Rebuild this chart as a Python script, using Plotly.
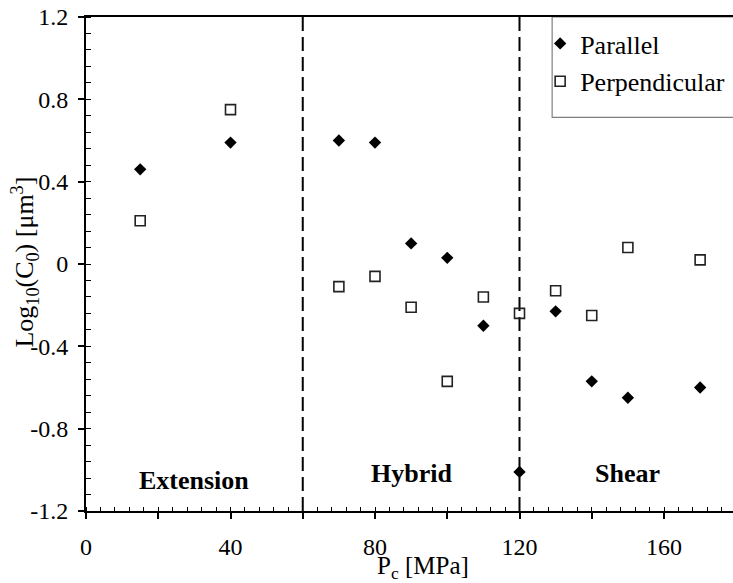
import plotly.graph_objects as go

# ---------------- data ----------------
pc = [15, 40, 70, 80, 90, 100, 110, 120, 130, 140, 150, 170]
parallel = [0.46, 0.59, 0.60, 0.59, 0.10, 0.03, -0.30, -1.01, -0.23, -0.57, -0.65, -0.60]
perpendicular = [0.21, 0.75, -0.11, -0.06, -0.21, -0.57, -0.16, -0.24, -0.13, -0.25, 0.08, 0.02]

regime_bounds = [60, 120]
regime_names = ["Extension", "Hybrid", "Shear"]

x_tickvals = [0, 20, 40, 60, 80, 100, 120, 140, 160]
x_ticktext = ["0", "", "40", "", "80", "", "120", "", "160"]
y_tickvals = [-1.2, -0.8, -0.4, 0, 0.4, 0.8, 1.2]
y_ticktext = ["-1.2", "-0.8", "-0.4", "0", "0.4", "0.8", "1.2"]

# ---------------- styling ----------------
FONT = "Liberation Serif, Times New Roman, serif"
FS = 26
TFS = 24
W, H = 733, 583
ML, MT, MB, MR = 85.5, 16.5, 71.5, 0
XR = [0, 179.1]
YR = [-1.2, 1.2]
pw = W - ML - MR
ph = H - MT - MB

fig = go.Figure()
fig.add_trace(go.Scatter(
    x=pc, y=parallel, mode="markers", name="Parallel", legendgroup="a",
    marker=dict(symbol="diamond", size=9.5, color="black", line=dict(width=0)),
))
fig.add_trace(go.Scatter(
    x=pc, y=perpendicular, mode="markers", name="Perpendicular", legendgroup="b",
    marker=dict(symbol="square-open", size=10, color="#222222", line=dict(width=1.6)),
))

# regime boundaries (dashed)
for b in regime_bounds:
    fig.add_shape(type="line", xref="x", yref="paper", x0=b, x1=b, y0=0, y1=1,
                  line=dict(color="black", width=2, dash="14px,6px"), layer="below")

# legend frame
fig.add_shape(type="rect", xref="paper", yref="paper",
              x0=(552 - ML) / pw, x1=1.02, y0=1 - (117 - MT) / ph, y1=1,
              line=dict(color="#7f7f7f", width=1.2), fillcolor="white", layer="below")

# regime labels at centres of regimes
edges = [0] + regime_bounds + [180]
label_y = [-1.05, -1.02, -1.02]
for i, name in enumerate(regime_names):
    fig.add_annotation(x=(edges[i] + edges[i + 1]) / 2, y=label_y[i], xref="x", yref="y",
                       text="<b>" + name + "</b>", showarrow=False,
                       font=dict(family=FONT, size=FS, color="black"))

# axis titles
fig.add_annotation(x=(423 - ML) / pw, y=-(568.5 - (H - MB)) / ph, xref="paper", yref="paper",
                   text="P<sub>c</sub> [MPa]", showarrow=False, xanchor="center", yanchor="middle",
                   font=dict(family=FONT, size=25, color="black"))
fig.add_annotation(x=(24 - ML) / pw, y=0.5 + (264 - 262) / ph, xref="paper", yref="paper",
                   text="Log<sub>10</sub>(C<sub>0</sub>) [μm<sup>3</sup>]", textangle=-90,
                   showarrow=False, xanchor="center", yanchor="middle",
                   font=dict(family=FONT, size=FS, color="black"))

axis_common = dict(showgrid=False, zeroline=False, color="black")

fig.update_layout(
    width=W, height=H,
    margin=dict(l=ML, r=MR, t=MT, b=MB, pad=0),
    paper_bgcolor="white", plot_bgcolor="white",
    font=dict(family=FONT, size=FS, color="black"),
    showlegend=True,
    legend=dict(x=(540 - ML) / pw, xanchor="left", y=1 - 3 / ph, yanchor="top",
                bgcolor="rgba(0,0,0,0)", borderwidth=0,
                font=dict(family=FONT, size=FS, color="black"),
                itemwidth=30, tracegroupgap=1),
    xaxis=dict(range=XR, tickmode="array", tickvals=x_tickvals, ticktext=x_ticktext,
               ticks="outside", ticklen=6, tickwidth=1.5, tickcolor="black",
               showline=True, linecolor="black", linewidth=2, mirror=True,
               minor=dict(dtick=4, tick0=0, ticks="inside", ticklen=4, tickwidth=1, tickcolor="black"),
               ticklabelstandoff=7,
               tickfont=dict(family=FONT, size=TFS, color="black"), **axis_common),
    yaxis=dict(range=YR, tickmode="array", tickvals=y_tickvals, ticktext=y_ticktext,
               ticks="outside", ticklen=6, tickwidth=1.5, tickcolor="black",
               showline=True, linecolor="black", linewidth=2, mirror=False,
               minor=dict(dtick=0.08, tick0=0, ticks="inside", ticklen=5, tickwidth=1, tickcolor="black"),
               ticklabelstandoff=5,
               tickfont=dict(family=FONT, size=TFS, color="black"), **axis_common),
    xaxis2=dict(range=XR, overlaying="x", anchor="y", side="bottom", tickmode="array",
                tickvals=x_tickvals, ticks="inside", ticklen=5, tickwidth=1.5, tickcolor="black",
                showticklabels=False, showline=False, **axis_common),
    yaxis2=dict(range=YR, overlaying="y", anchor="x", side="left", tickmode="array",
                tickvals=y_tickvals, ticks="inside", ticklen=6, tickwidth=1.5, tickcolor="black",
                showticklabels=False, showline=False, **axis_common),
)

fig.write_html("out.html")
